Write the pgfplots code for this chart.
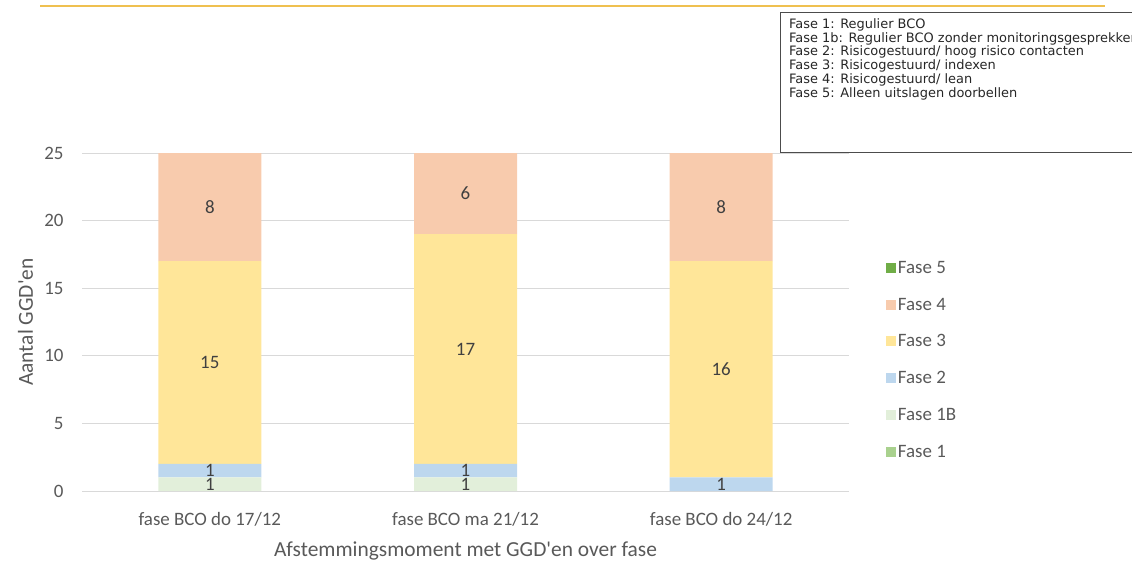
\documentclass[border=0pt]{standalone}
\usepackage{pgfplots}
\pgfplotsset{compat=1.18}
\usepackage{fontspec}
\setmainfont{Carlito}
\newfontfamily\boxfont{DejaVu Sans}
\definecolor{fOne}{HTML}{A9D18E}
\definecolor{fOneB}{HTML}{E2EFDA}
\definecolor{fTwo}{HTML}{BDD7EE}
\definecolor{fThree}{HTML}{FFE699}
\definecolor{fFour}{HTML}{F8CBAD}
\definecolor{fFive}{HTML}{70AD47}
\definecolor{txt}{HTML}{595959}
\definecolor{lbl}{HTML}{404040}
\definecolor{gridc}{HTML}{D9D9D9}
\definecolor{gold}{HTML}{EFC050}
\pgfplotstableread{
x f1 f1b f2 f3 f4 f5
0 0 1 1 15 8 0
1 0 1 1 17 6 0
2 0 0 1 16 8 0
}\datatable
\begin{document}
\begin{tikzpicture}
\useasboundingbox (0,0) rectangle (1132bp,-563bp);
\draw[gold, line width=2bp] (40bp,-6bp) -- (1105bp,-6bp);
\draw[gray!60!black, line width=0.8bp] (780bp,-12bp) -- (1200bp,-12bp);
\draw[gray!60!black, line width=0.8bp] (780bp,-12bp) -- (780bp,-152bp) -- (1200bp,-152bp);
\foreach \t [count=\i] in {Fase 1: Regulier BCO,
  Fase 1b: Regulier BCO zonder monitoringsgesprekken,
  Fase 2: Risicogestuurd/ hoog risico contacten,
  Fase 3: Risicogestuurd/ indexen,
  Fase 4: Risicogestuurd/ lean,
  Fase 5: Alleen uitslagen doorbellen}{
  \node[anchor=base west, inner sep=0pt, text=black!85, font=\boxfont\fontsize{13}{13.7}\selectfont]
    at (789bp,{-28.5bp-(\i-1)*13.7bp}) {\t};
}
\begin{axis}[
  at={(82bp,-491bp)}, anchor=south west,
  scale only axis, width=767bp, height=338bp,
  ybar stacked, bar width=103bp,
  xmin=-0.5, xmax=2.5, ymin=0, ymax=25,
  xtick={0,1,2},
  xticklabels={fase BCO do 17/12, fase BCO ma 21/12, fase BCO do 24/12},
  ytick={0,5,...,25},
  /pgf/number format/assume math mode=true,
  ymajorgrids, grid style={gridc, line width=1bp},
  axis line style={draw=none},
  major tick length=0pt,
  tick label style={font=\fontsize{19}{19}\selectfont, text=txt},
  yticklabel style={xshift=-15bp},
  xticklabel style={yshift=-18bp},
  xlabel={Afstemmingsmoment met GGD\textquotesingle en over fase},
  ylabel={Aantal GGD\textquotesingle en},
  label style={font=\fontsize{21.5}{21.5}\selectfont, text=txt},
  xlabel style={at={(axis description cs:0.5,-0.195)}, anchor=base},
  ylabel style={at={(axis description cs:-0.0639,0.5)}, anchor=base, rotate=0},
  visualization depends on=rawy \as \rawy,
  nodes near coords={\ifdim\rawy pt=0pt\else\pgfmathprintnumber{\rawy}\fi},
  every node near coord/.append style={anchor=center, font=\fontsize{19}{19}\selectfont, text=lbl},
  legend image code/.code={\fill[#1, draw=none] (0bp,-5bp) rectangle (10bp,5bp);},
  reverse legend,
  legend cell align=left,
  legend style={draw=none, fill=none, at={(rel axis cs:1.044,0.692)}, anchor=north west,
     font=\fontsize{19}{19}\selectfont, text=txt, row sep=19bp,
     nodes={inner sep=2bp}},
]
\addplot[fill=fOne, draw=none] table[x=x, y=f1] {\datatable};
\addlegendentry{Fase 1}
\addplot[fill=fOneB, draw=none] table[x=x, y=f1b] {\datatable};
\addlegendentry{Fase 1B}
\addplot[fill=fTwo, draw=none] table[x=x, y=f2] {\datatable};
\addlegendentry{Fase 2}
\addplot[fill=fThree, draw=none] table[x=x, y=f3] {\datatable};
\addlegendentry{Fase 3}
\addplot[fill=fFour, draw=none] table[x=x, y=f4] {\datatable};
\addlegendentry{Fase 4}
\addplot[fill=fFive, draw=none] table[x=x, y=f5] {\datatable};
\addlegendentry{Fase 5}
\end{axis}
\end{tikzpicture}
\end{document}
